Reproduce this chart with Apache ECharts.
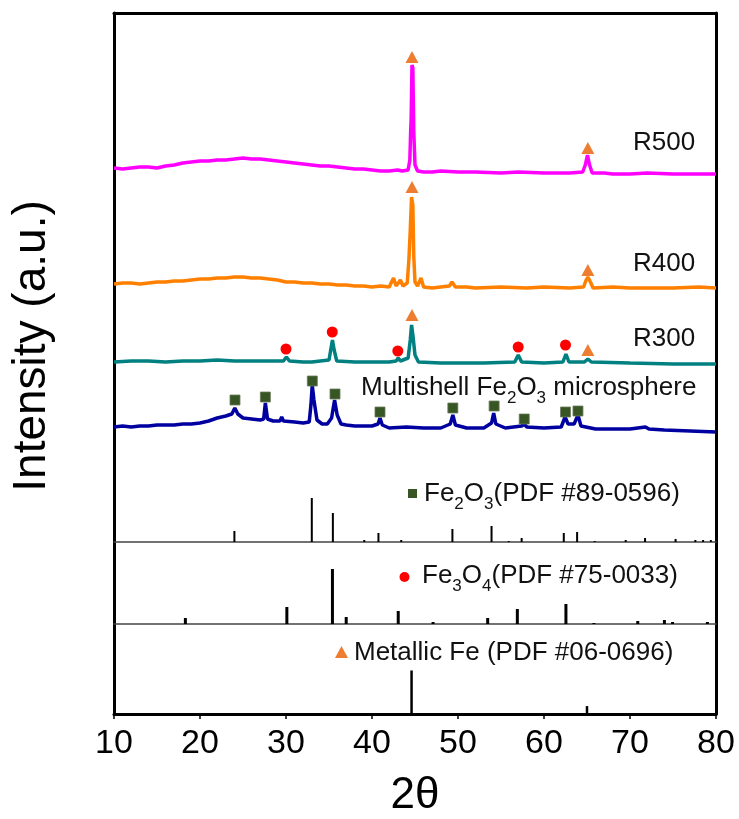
<!DOCTYPE html>
<html><head><meta charset="utf-8">
<script src="https://cdn.jsdelivr.net/npm/echarts@6/dist/echarts.min.js"></script>
<style>html,body{margin:0;padding:0;background:#fff}#c{width:739px;height:819px}</style>
</head><body><div id="c"></div>
<script>
// ---- data (2θ, intensity a.u.) ----
const xTicks = [10, 20, 30, 40, 50, 60, 70, 80];
const r500 = [[10,374],[11,373],[12,374],[13,375],[14,375],[15,374],[16,376],[17,377],[18,379],[19,380],[20,381],[21,381],[22,382],[23,382],[24,383],[25,384],[26,383],[27,383],[28,382],[29,381],[30,380],[31,379],[32,378],[33,377],[34,376],[35,376],[36,375],[37,374],[38,373],[39,373],[40,372],[41,371],[42,371],[43,372],[43.5,371],[44.2,372],[44.4,382],[44.5,412],[44.55,422],[44.65,477],[44.75,474],[44.85,412],[45.0,377],[45.3,371],[46,370],[47,370],[48,371],[50,370],[52,370],[55,369],[57,370],[60,369],[62,369],[63,369],[64.5,370],[64.8,377],[65.05,387],[65.3,377],[65.6,369],[67,369],[68,368],[70,368],[72,369],[75,368],[77,368],[80,368]];
const r400 = [[10,258],[11,259],[12,259],[13,258],[14,259],[15,260],[16,260],[17,261],[18,261],[19,262],[20,263],[21,263],[22,264],[23,264],[24,265],[25,265],[26,264],[27,264],[28,263],[29,262],[30,260],[31,260],[32,259],[33,259],[34,258],[35,258],[36,257],[37,257],[38,256],[39,256],[40,255],[41,256],[42,255],[42.5,264],[42.8,256],[43.3,262],[43.6,256],[44.1,259],[44.3,284],[44.45,312],[44.6,345],[44.75,337],[44.85,287],[45.0,260],[45.3,256],[45.7,264],[46.0,255],[47,254],[48,255],[49,256],[49.3,260],[49.7,255],[51,255],[52,254],[55,255],[58,254],[60,255],[63,254],[64.6,255],[64.9,262],[65.1,265],[65.4,260],[65.7,254],[68,255],[70,254],[72,254],[75,254],[78,255],[80,254]];
const r300 = [[10,180],[12,181],[14,181],[16,180],[18,181],[20,181],[22,182],[24,181],[25,181],[28,181],[29.7,181],[30.05,185],[30.4,181],[32,180],[33,180],[35.0,182],[35.2,192],[35.4,202],[35.6,192],[35.9,181],[38,180],[40,180],[42,180],[42.8,181],[43.05,184],[43.3,181],[44.2,184],[44.45,202],[44.6,217],[44.75,207],[45.0,187],[45.4,180],[48,179],[50,179],[53,179],[56.6,180],[57.0,187],[57.4,180],[60,179],[62.2,180],[62.55,188],[62.9,180],[64.7,180],[65.1,183],[65.5,180],[70,179],[75,178],[80,178]];
const multishell = [[10,115],[11,116],[12,115],[13,116],[14,116],[15,117],[16,117],[17,117],[18,118],[19,118],[20,119],[21,121],[22,124],[23,126],[23.7,128],[24.05,134],[24.4,128],[25,124],[26,123],[27,122],[27.4,123],[27.6,139],[27.85,123],[28.5,121],[29.3,121],[29.5,125],[29.7,121],[31,120],[32,119],[32.7,120],[32.9,137],[33.05,157],[33.25,142],[33.6,122],[34.2,118],[34.8,118],[35.3,124],[35.65,142],[35.95,127],[36.4,118],[37,117],[38,116],[40,116],[40.7,118],[40.93,124],[41.2,117],[42,114],[44,115],[46,114],[48,114],[49.1,118],[49.4,127],[49.7,117],[51,114],[53,114],[53.9,119],[54.15,129],[54.4,118],[55.5,114],[57.4,116],[57.7,118],[58,115],[60,114],[62,115],[62.45,125],[62.8,118],[63.5,118],[63.95,127],[64.3,116],[66,113],[68,113],[70,113],[71.8,115],[72.2,113],[74,112],[77,111],[80,110]];
const feMarks = [[44.65,485],[65.1,394],[44.65,355],[65.1,272],[44.65,227],[65.1,192]];
const fe3o4Marks = [[30.0,193],[35.38,210],[43.0,191],[57.0,195],[62.5,197]];
const fe2o3Marks = [[24.07,142],[27.6,145],[33.06,161],[35.7,148],[40.93,130],[49.4,134],[54.2,136],[57.7,123],[62.5,130],[63.95,131]];
const fe2o3Sticks = [[24.0,11],[33.0,44],[35.45,29],[39.1,2],[40.75,9],[43.4,2],[49.35,13],[53.9,16],[55.9,1],[57.4,4],[62.3,9],[63.85,10],[65.9,1],[69.5,2],[71.75,4],[75.3,3],[77.6,2],[78.5,2],[79.4,2]];
const fe3o4Sticks = [[18.3,6],[30.1,17],[35.4,55],[37.0,7],[43.05,13],[47.1,2],[53.45,6],[56.9,15],[62.55,20],[65.8,1],[70.9,3],[74.0,4],[74.95,2],[79.0,2]];
const feSticks = [[44.6,44],[65.0,8]];

const FONT = "'Liberation Sans', Arial, sans-serif";
const frame = {color:'#000', width:3};
const divider = {color:'#444', width:1.5};

function xa(grid, pos, line, extra){
  return Object.assign({type:'value', gridIndex:grid, position:pos, min:10, max:80, interval:10,
    axisLine:{show:true, onZero:false, lineStyle:line}, axisTick:{show:false}, axisLabel:{show:false}, splitLine:{show:false}}, extra||{});
}
function ya(grid, pos, max){
  return {type:'value', gridIndex:grid, position:pos, min:0, max:max,
    axisLine:{show:true, onZero:false, lineStyle:frame}, axisTick:{show:false}, axisLabel:{show:false}, splitLine:{show:false}};
}
function sticks(data, xi, yi, w){
  return {type:'custom', xAxisIndex:xi, yAxisIndex:yi, data:data, encode:{x:0,y:1}, z:3,
    renderItem:function(p, api){
      const a = api.coord([api.value(0), 0]);
      const b = api.coord([api.value(0), api.value(1)]);
      return {type:'line', shape:{x1:a[0],y1:a[1],x2:b[0],y2:b[1]}, style:{stroke:'#000', lineWidth:w}};
    }};
}
function curve(data, color){
  return {type:'line', xAxisIndex:0, yAxisIndex:0, data:data, showSymbol:false, symbol:'none',
    lineStyle:{color:color, width:3.5}, z:2};
}
function marks(data, symbol, size, color, border){
  return {type:'scatter', xAxisIndex:0, yAxisIndex:0, data:data, symbol:symbol, symbolSize:size, z:5,
    itemStyle:{color:color, borderColor:border||color, borderWidth:border?0.8:0, opacity:1}};
}

const sub = {fontSize:17, fontFamily:FONT, color:'#111', lineHeight:38, verticalAlign:'bottom'};
const main = {fontSize:26, fontFamily:FONT, color:'#111', lineHeight:38};
function label(x, y, txt, rich){
  return {type:'text', x:x, y:y, z:10, style:{text:txt, fontSize:26, fontFamily:FONT, fill:'#111',
    verticalAlign:'middle', align:'left', rich:rich}};
}

const option = {
  animation:false,
  backgroundColor:'#fff',
  grid:[
    {left:114, width:602, top:13, height:529},
    {left:114, width:602, top:542, height:82},
    {left:114, width:602, top:624, height:91}
  ],
  xAxis:[
    xa(0,'bottom',divider),
    xa(0,'top',frame),
    xa(1,'bottom',divider),
    xa(2,'bottom',frame,{
      axisTick:{show:true, inside:false, length:5, lineStyle:{color:'#000', width:1.5}},
      axisLabel:{show:true, color:'#000', fontSize:34, fontFamily:FONT, margin:13,
        customValues:xTicks},
      name:'2θ', nameLocation:'middle', nameGap:60,
      nameTextStyle:{color:'#000', fontSize:44, fontFamily:FONT}
    })
  ],
  yAxis:[ya(0,'left',529), ya(0,'right',529), ya(1,'left',82), ya(1,'right',82), ya(2,'left',91), ya(2,'right',91)],
  series:[
    curve(r500,'#FF00FF'),
    curve(r400,'#FF8000'),
    curve(r300,'#008080'),
    curve(multishell,'#0000A0'),
    sticks(fe2o3Sticks,0,0,2),
    sticks(fe3o4Sticks,2,2,3),
    sticks(feSticks,3,4,2.5),
    marks(feMarks,'triangle',[13,12],'#ED7D31'),
    marks(fe3o4Marks,'circle',11,'#FF0000'),
    marks(fe2o3Marks,'rect',10,'#375623','#6b7b5e')
  ],
  graphic:[
    {type:'text', x:32, y:346, rotation:Math.PI/2, z:10,
      style:{text:'Intensity (a.u.)', fontSize:46, fontFamily:FONT, fill:'#000', align:'center', verticalAlign:'middle'}},
    label(633,143,'R500'),
    label(633,264,'R400'),
    label(633,339,'R300'),
    label(361,388,'{m|Multishell Fe}{s|2}{m|O}{s|3}{m| microsphere}', {m:main, s:sub}),
    label(424,494,'{m|Fe}{s|2}{m|O}{s|3}{m|(PDF #89-0596)}', {m:main, s:sub}),
    label(422,576,'{m|Fe}{s|3}{m|O}{s|4}{m|(PDF #75-0033)}', {m:main, s:sub}),
    label(354,653,'Metallic Fe (PDF #06-0696)'),
    {type:'rect', z:10, shape:{x:408, y:489, width:9, height:9}, style:{fill:'#375623'}},
    {type:'circle', z:10, shape:{cx:404.5, cy:577, r:5}, style:{fill:'#FF0000'}},
    {type:'polygon', z:10, shape:{points:[[341.5,646],[348,658],[335,658]]}, style:{fill:'#ED7D31'}}
  ]
};
echarts.init(document.getElementById('c'), null, {renderer:'canvas'}).setOption(option);
</script></body></html>
